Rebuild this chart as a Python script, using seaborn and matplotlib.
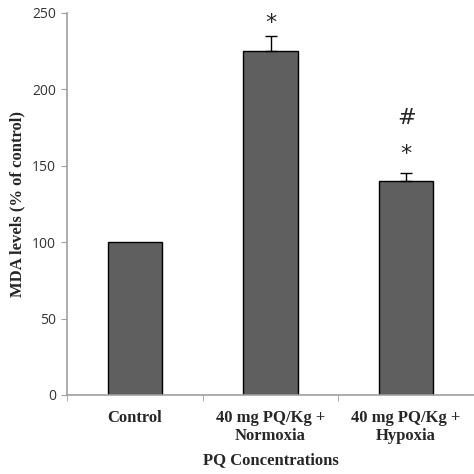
import matplotlib
matplotlib.use("Agg")
import matplotlib.pyplot as plt
import seaborn as sns
import pandas as pd
import numpy as np

# values
groups = ["Control", "40 mg PQ/Kg +\nNormoxia", "40 mg PQ/Kg +\nHypoxia"]
mda = [100, 225, 140]
sem_up = [0, 10, 5]

df = pd.DataFrame({"group": groups, "mda": mda})

sns.set_style("white")
fig = plt.figure(figsize=(4.74, 4.74), dpi=100)
ax = fig.add_axes([0.1414, 0.1667, 0.8586, 0.806])

sns.barplot(data=df, x="group", y="mda", color="#5f5f5f", saturation=1,
            width=0.4, edgecolor="black", linewidth=1, ax=ax)

# upper error bars only (control has none)
idx = [i for i, e in enumerate(sem_up) if e > 0]
ax.errorbar(idx, [mda[i] for i in idx],
            yerr=[[0] * len(idx), [sem_up[i] for i in idx]], fmt="none",
            ecolor="black", elinewidth=1, capsize=4, capthick=1)

serif = dict(family="Liberation Serif", weight="bold")
ax.text(1, 237, "*", ha="center", va="bottom", fontsize=16, family="DejaVu Sans")
ax.text(2, 151, "*", ha="center", va="bottom", fontsize=16, family="DejaVu Sans")
ax.text(2, 175, "#", ha="center", va="bottom", fontsize=16, family="DejaVu Sans")

ax.set_ylim(0, 250)
ax.set_xlim(-0.5, 2.5)
ax.set_yticks([0, 50, 100, 150, 200, 250])
ax.tick_params(axis="y", direction="out", length=4, color="#a0a0a0",
               labelsize=10, labelcolor="#333333", left=True, pad=4)
for lab in ax.get_yticklabels():
    lab.set_family("Open Sans")

ax.set_xticks(range(len(groups)))
ax.set_xticklabels(groups, fontsize=12, **serif, linespacing=1.15)
ax.tick_params(axis="x", which="major", length=0, pad=11)
ax.set_xticks([-0.5, 0.5, 1.5, 2.5], minor=True)
ax.tick_params(axis="x", which="minor", direction="out", length=4,
               color="#a0a0a0", bottom=True)

ax.set_ylabel("MDA levels (% of control)", fontsize=12, labelpad=5, **serif)
ax.set_xlabel("PQ Concentrations", fontsize=12, labelpad=6, **serif)

for s in ["top", "right"]:
    ax.spines[s].set_visible(False)
for s in ["left", "bottom"]:
    ax.spines[s].set_color("#a0a0a0")
    ax.spines[s].set_linewidth(1.2)

fig.savefig("out.png", dpi=100)
